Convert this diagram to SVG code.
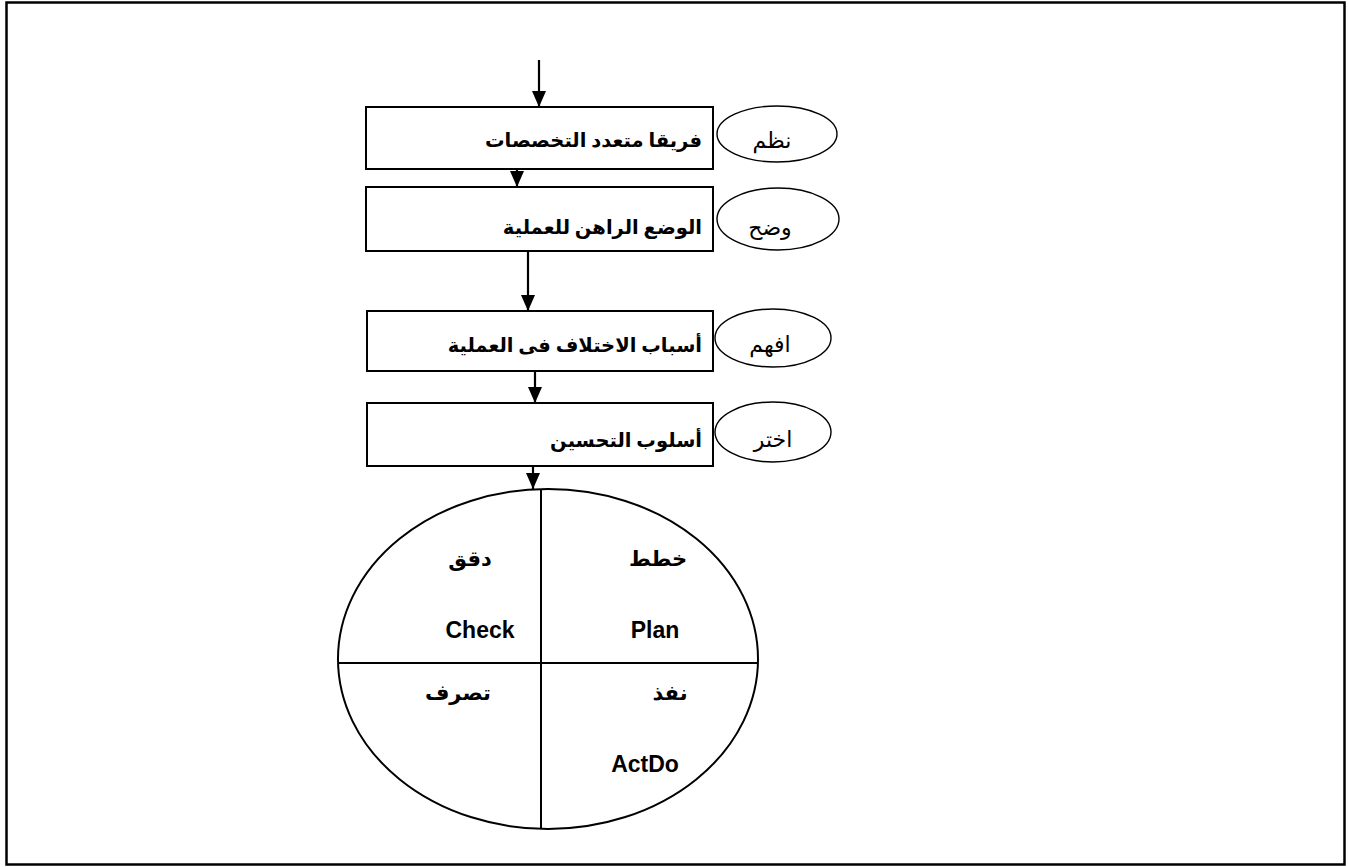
<svg xmlns="http://www.w3.org/2000/svg" width="1348" height="867" viewBox="0 0 1348 867">
  <style>
    .frame { fill: none; stroke: #000; stroke-width: 2.5; }
    .box { fill: #fff; stroke: #000; stroke-width: 2; }
    .tag { fill: #fff; stroke: #000; stroke-width: 1.4; }
    .line { fill: none; stroke: #000; stroke-width: 2; }
    .conn { fill: none; stroke: #000; stroke-width: 2.2; marker-end: url(#arrow); }
    .step { font-family: "Liberation Serif", "DejaVu Serif", "DejaVu Sans", serif; font-size: 19.5px; font-weight: bold; direction: rtl; }
    .verb { font-family: "Liberation Serif", "DejaVu Serif", "DejaVu Sans", serif; font-size: 22px; direction: rtl; }
    .pdca-ar { font-family: "Liberation Sans", "DejaVu Sans", sans-serif; font-size: 21px; font-weight: bold; direction: rtl; }
    .pdca { font-family: "Liberation Sans", "DejaVu Sans", sans-serif; font-size: 23px; font-weight: bold; }
  </style>
  <defs>
    <marker id="arrow" viewBox="0 0 16 14" refX="16" refY="7" markerWidth="16" markerHeight="14" markerUnits="userSpaceOnUse" orient="auto">
      <path d="M0,0 L16,7 L0,14 Z" fill="#000"/>
    </marker>
  </defs>

  <rect class="frame" x="6.5" y="2.5" width="1338" height="862"/>

  <!-- flow connectors -->
  <g id="connectors">
    <line class="conn" x1="539" y1="60" x2="539" y2="107"/>
    <line class="conn" x1="517" y1="169" x2="517" y2="187"/>
    <line class="conn" x1="528" y1="251" x2="528" y2="311"/>
    <line class="conn" x1="535" y1="371" x2="535" y2="403"/>
    <line class="conn" x1="533" y1="466" x2="533" y2="489"/>
  </g>

  <!-- process steps -->
  <g id="step-team">
    <rect class="box" x="366" y="107" width="347" height="62"/>
    <text class="step" x="702" y="147" text-anchor="start">فريقا متعدد التخصصات</text>
  </g>
  <g id="step-status">
    <rect class="box" x="366" y="187" width="347" height="64"/>
    <text class="step" x="702" y="234" text-anchor="start">الوضع الراهن للعملية</text>
  </g>
  <g id="step-causes">
    <rect class="box" x="367" y="311" width="346" height="60"/>
    <text class="step" x="702" y="352" text-anchor="start">أسباب الاختلاف فى العملية</text>
  </g>
  <g id="step-method">
    <rect class="box" x="367" y="403" width="346" height="63"/>
    <text class="step" x="702" y="447" text-anchor="start">أسلوب التحسين</text>
  </g>

  <!-- action verbs -->
  <g id="verb-organize">
    <ellipse class="tag" cx="777" cy="134" rx="60" ry="28"/>
    <text class="verb" x="772" y="148" text-anchor="middle">نظم</text>
  </g>
  <g id="verb-clarify">
    <ellipse class="tag" cx="778" cy="219" rx="61" ry="31"/>
    <text class="verb" x="770" y="235" text-anchor="middle">وضح</text>
  </g>
  <g id="verb-understand">
    <ellipse class="tag" cx="773" cy="338" rx="58" ry="29"/>
    <text class="verb" x="770" y="352" text-anchor="middle">افهم</text>
  </g>
  <g id="verb-select">
    <ellipse class="tag" cx="773" cy="432" rx="58" ry="30"/>
    <text class="verb" x="773" y="447" text-anchor="middle">اختر</text>
  </g>

  <!-- PDCA cycle -->
  <g id="pdca-cycle">
    <ellipse class="box" cx="548" cy="659" rx="210" ry="170"/>
    <line class="line" x1="541" y1="489" x2="541" y2="829"/>
    <line class="line" x1="338" y1="663" x2="758" y2="663"/>
    <text class="pdca-ar" x="470" y="566" text-anchor="middle">دقق</text>
    <text class="pdca-ar" x="658" y="566" text-anchor="middle">خطط</text>
    <text class="pdca" x="480" y="638" text-anchor="middle">Check</text>
    <text class="pdca" x="655" y="638" text-anchor="middle">Plan</text>
    <text class="pdca-ar" x="458" y="700" text-anchor="middle">تصرف</text>
    <text class="pdca-ar" x="670" y="700" text-anchor="middle">نفذ</text>
    <text class="pdca" x="645" y="772" text-anchor="middle">ActDo</text>
  </g>
</svg>
